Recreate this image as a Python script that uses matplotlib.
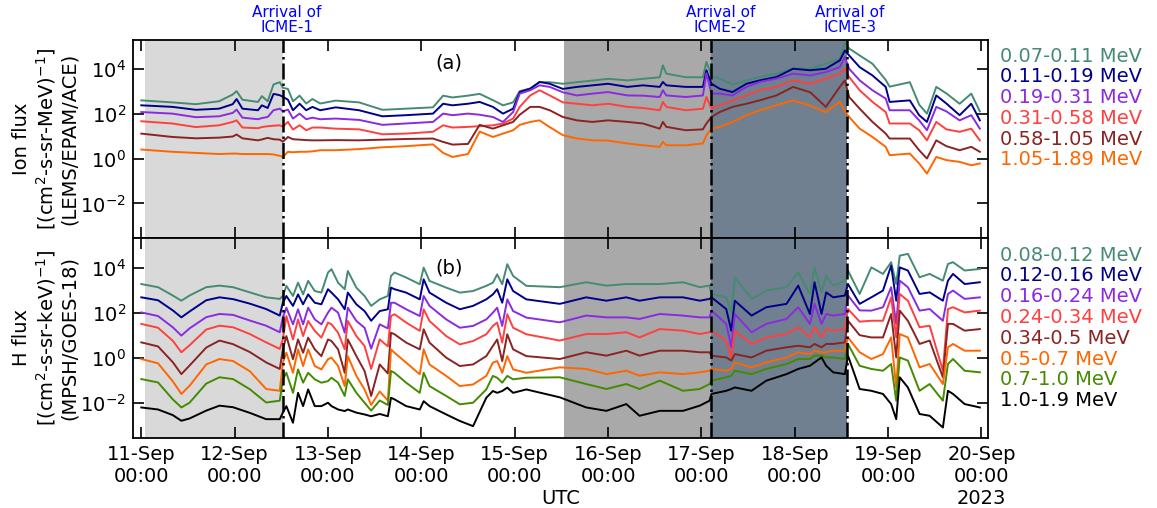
import numpy as np
import matplotlib
matplotlib.use("Agg")
import matplotlib.pyplot as plt
from matplotlib.ticker import FixedLocator, NullLocator, LogFormatterMathtext

# ---------------- data (hours since 2023-09-11 00:00 UTC, log10 flux) ----------------
t_ion_h = [0, 8, 14, 20, 23.5, 24.5, 26, 30, 31, 32.5,
           34, 35.6, 36.4, 37.7, 39, 40.7, 42.4, 44, 46, 50,
           56, 62, 68, 75, 77.6, 80, 84, 87, 90.4, 93,
           95.6, 97.3, 100, 102.4, 105, 108.4, 112, 116, 120, 125,
           129, 133.3, 134.1, 135, 140, 144.4, 145.3, 146.6, 148.7, 152,
           155.6, 159, 163.3, 167.6, 172, 176, 179.6, 180.9, 182, 184.7,
           188, 191.4, 192.4, 197.6, 200, 202, 204.4, 207, 210.4, 213.4, 215.6]

ion_007_011 = [2.59, 2.50, 2.42, 2.55, 2.85, 3.00, 2.62, 2.52, 2.78, 2.55,
               3.30, 3.40, 3.15, 3.10, 2.55, 2.80, 2.45, 2.65, 2.45, 2.58,
               2.50, 2.17, 2.22, 2.28, 2.80, 2.72, 2.80, 2.88, 2.60, 2.37,
               2.50, 3.00, 3.12, 3.40, 3.40, 3.33, 3.40, 3.47, 3.55, 3.48,
               3.55, 3.62, 4.15, 3.78, 3.62, 3.62, 4.30, 3.70, 3.56, 3.30,
               3.48, 3.63, 3.78, 4.00, 4.00, 4.22, 4.44, 5.15, 4.90, 4.59,
               4.22, 3.50, 3.20, 3.40, 2.40, 2.00, 3.19, 2.90, 2.44, 2.89, 2.10]
ion_011_019 = [2.37, 2.30, 2.17, 2.22, 2.42, 2.65, 2.22, 2.15, 2.37, 2.25,
               2.88, 2.82, 2.75, 2.62, 2.15, 2.44, 2.15, 2.30, 2.15, 2.28,
               2.15, 1.88, 1.93, 2.00, 2.44, 2.37, 2.44, 2.52, 2.30, 2.00,
               2.22, 2.96, 3.11, 3.41, 3.33, 3.10, 3.19, 3.26, 3.33, 3.19,
               3.26, 3.19, 3.41, 3.26, 3.19, 3.19, 3.93, 3.33, 3.11, 2.96,
               3.33, 3.48, 3.63, 4.00, 3.93, 4.00, 4.37, 4.81, 4.59, 4.07,
               3.70, 3.19, 2.52, 2.59, 1.93, 1.63, 2.81, 2.45, 1.93, 2.44, 1.70]
ion_019_031 = [2.07, 2.00, 1.84, 1.88, 2.03, 2.18, 1.82, 1.75, 1.80, 1.85,
               2.15, 2.22, 2.10, 2.18, 1.78, 2.00, 1.75, 1.82, 1.75, 1.78,
               1.72, 1.50, 1.56, 1.63, 2.00, 1.93, 2.00, 1.95, 1.85, 1.63,
               2.07, 2.89, 3.04, 3.26, 3.19, 2.95, 2.81, 2.89, 2.96, 2.81,
               2.80, 2.74, 3.04, 2.81, 2.74, 2.81, 3.80, 2.89, 2.89, 2.81,
               3.19, 3.41, 3.56, 3.78, 3.70, 3.85, 4.07, 4.52, 4.00, 3.48,
               3.04, 2.67, 2.15, 2.15, 1.70, 1.26, 2.30, 2.10, 1.70, 1.93, 1.33]
ion_031_058 = [1.66, 1.56, 1.40, 1.48, 1.63, 1.70, 1.38, 1.35, 1.40, 1.44,
               1.46, 1.48, 1.42, 1.63, 1.29, 1.48, 1.26, 1.38, 1.38, 1.33,
               1.30, 1.08, 1.11, 1.19, 1.48, 1.38, 1.41, 1.44, 1.48, 1.56,
               1.78, 2.30, 2.81, 3.04, 2.81, 2.50, 2.44, 2.37, 2.44, 2.30,
               2.25, 2.15, 2.52, 2.30, 2.15, 2.22, 2.74, 2.22, 2.37, 2.59,
               2.81, 3.04, 3.19, 3.48, 3.33, 3.56, 3.78, 4.00, 3.63, 3.04,
               2.52, 2.07, 1.56, 1.56, 1.26, 0.81, 1.63, 1.30, 1.19, 1.33, 0.81]
ion_058_105 = [1.11, 0.96, 0.90, 0.93, 0.98, 1.07, 0.90, 0.81, 0.85, 0.92,
               0.86, 0.84, 0.75, 0.96, 0.86, 0.84, 0.82, 0.81, 0.81, 0.82,
               0.81, 0.84, 0.87, 0.89, 0.74, 0.62, 0.65, 1.50, 1.33, 1.48,
               1.63, 1.95, 2.30, 2.30, 2.15, 1.85, 1.70, 1.63, 1.70, 1.63,
               1.56, 1.33, 1.63, 1.41, 1.26, 1.30, 1.56, 1.85, 2.07, 2.30,
               2.44, 2.59, 2.81, 3.19, 2.95, 2.30, 3.19, 3.48, 2.74, 2.22,
               1.63, 1.11, 0.89, 0.89, 0.37, 0.00, 0.81, 0.55, 0.37, 0.52, 0.30]
ion_105_189 = [0.40, 0.30, 0.25, 0.20, 0.22, 0.22, 0.20, 0.20, 0.20, 0.20,
               0.18, 0.12, 0.07, 0.30, 0.28, 0.30, 0.30, 0.32, 0.37, 0.37,
               0.42, 0.50, 0.55, 0.63, 0.25, 0.07, 0.20, 1.20, 0.96, 1.11,
               1.26, 1.50, 1.63, 1.70, 1.40, 1.04, 0.89, 0.81, 0.80, 0.67,
               0.59, 0.52, 0.74, 0.59, 0.59, 0.67, 1.04, 1.33, 1.41, 1.63,
               1.93, 2.15, 2.37, 2.59, 2.35, 2.07, 2.52, 2.10, 1.85, 1.33,
               0.96, 0.52, 0.15, 0.22, -0.22, -0.67, 0.07, -0.07, -0.15, -0.30, -0.22]

t_h_h = [0, 4.3, 8.1, 10.3, 12.4, 16.7, 20.1, 23.6, 27.9, 32.1,
         35.6, 36.4, 37.3, 39, 40.3, 41.6, 42.9, 44.6, 46.3, 48,
         48.9, 50.6, 52.3, 53.1, 55.3, 57.4, 59.1, 61.3, 63.4, 64.2,
         65.1, 68.1, 71.6, 72.6, 74.1, 78.4, 81.9, 85.3, 88.7, 90.4,
         91.5, 92.8, 94.1, 95.6, 99, 107.6, 114.4, 119.6, 124.7, 128.1,
         133.3, 139.3, 143.6, 146.1, 146.6, 150.4, 151.7, 152.6, 156.9, 160.7,
         165.9, 168.9, 171.9, 173.1, 174.9, 176.1, 177.9, 180.9, 181.7, 184.7,
         187.7, 190.7, 192.8, 194.1, 195, 197.1, 200.1, 202.7, 206.1, 207.4,
         208.7, 211.7, 215.6]

h_008_012 = [3.27, 3.13, 2.76, 2.53, 2.76, 3.13, 3.20, 3.13, 2.90, 2.68,
             2.61, 2.74, 3.19, 2.74, 3.33, 2.81, 3.41, 2.96, 2.89, 3.78,
             3.93, 3.33, 3.04, 3.85, 3.11, 2.74, 2.30, 2.59, 2.74, 3.63,
             3.78, 3.56, 3.26, 4.00, 3.41, 3.11, 2.89, 2.96, 3.19, 3.33,
             3.70, 3.26, 4.15, 3.63, 3.19, 3.13, 3.35, 3.20, 3.27, 3.27,
             3.27, 3.35, 3.13, 3.20, 2.83, 2.68, 2.01, 3.57, 2.61, 2.98,
             3.13, 3.79, 2.83, 4.01, 2.90, 3.64, 3.20, 3.42, 3.87, 2.83,
             4.01, 3.72, 4.24, 3.27, 4.53, 4.61, 3.57, 3.72, 3.42, 4.16,
             4.24, 3.87, 3.94]
h_012_016 = [2.68, 2.55, 2.10, 1.79, 2.05, 2.55, 2.68, 2.60, 2.40, 2.16,
             1.87, 2.44, 2.74, 2.30, 2.81, 2.37, 2.81, 2.44, 2.37, 3.04,
             2.89, 2.59, 2.15, 2.89, 2.37, 2.07, 1.64, 2.07, 2.15, 3.11,
             3.04, 2.89, 2.59, 3.48, 2.89, 2.44, 2.15, 2.30, 2.59, 2.81,
             3.04, 2.44, 3.48, 2.96, 2.59, 2.39, 2.68, 2.53, 2.68, 2.53,
             2.68, 2.68, 2.53, 2.61, 2.68, 2.16, 1.20, 2.53, 1.87, 2.24,
             2.39, 3.20, 1.94, 3.35, 1.94, 2.90, 2.68, 2.76, 3.27, 2.39,
             2.68, 2.98, 4.09, 2.53, 4.01, 3.87, 2.83, 2.90, 2.53, 3.42,
             3.72, 3.27, 3.35]
h_016_024 = [2.01, 1.85, 1.35, 0.98, 1.30, 1.80, 1.94, 1.90, 1.65, 1.42,
             1.13, 1.78, 2.22, 1.48, 2.15, 1.48, 2.22, 1.70, 1.48, 2.00,
             2.22, 2.00, 1.11, 2.22, 1.63, 1.33, 0.40, 1.48, 1.30, 2.44,
             2.44, 2.15, 1.85, 2.74, 2.30, 1.70, 1.33, 1.41, 1.70, 2.00,
             2.22, 1.41, 2.59, 2.07, 1.78, 1.57, 1.87, 1.79, 1.79, 1.72,
             1.94, 1.87, 1.79, 1.79, 2.09, 1.50, 0.46, 1.94, 1.13, 1.50,
             1.72, 2.24, 1.50, 2.39, 1.50, 1.94, 1.87, 1.94, 2.76, 2.10,
             2.09, 2.24, 3.13, 1.50, 3.42, 3.13, 2.09, 2.16, 1.64, 2.83,
             2.98, 2.61, 2.68]
h_024_034 = [1.50, 1.33, 0.75, 0.24, 0.55, 1.25, 1.42, 1.35, 1.05, 0.68,
             0.39, 0.81, 1.85, 0.81, 1.70, 0.96, 1.63, 1.19, 0.89, 1.56,
             1.48, 1.11, 0.37, 1.63, 0.96, 0.52, -0.50, 0.81, 0.50, 1.85,
             1.93, 1.56, 1.19, 2.15, 1.63, 0.96, 0.59, 0.74, 1.04, 1.41,
             1.56, 0.67, 1.93, 1.33, 1.04, 0.76, 1.05, 1.05, 1.13, 0.90,
             1.27, 1.20, 1.05, 1.13, 1.20, 0.76, 0.01, 1.20, 0.61, 0.90,
             1.05, 1.35, 0.90, 1.35, 0.90, 1.27, 1.20, 1.27, 2.16, 1.60,
             1.64, 1.64, 2.68, 0.90, 2.83, 2.53, 1.35, 1.42, -0.58, 2.16,
             2.24, 2.01, 2.09]
h_034_050 = [0.68, 0.50, -0.20, -0.73, -0.35, 0.45, 0.76, 0.60, 0.25, -0.21,
             -0.50, 0.37, 0.96, -0.07, 0.81, 0.22, 0.89, 0.37, 0.07, 0.81,
             0.74, 0.37, -0.67, 0.81, 0.07, -0.59, -1.70, -0.30, -0.70, 1.11,
             1.04, 0.67, 0.37, 1.26, 0.67, 0.00, -0.37, -0.30, 0.07, 0.52,
             0.81, -0.15, 1.04, 0.37, 0.07, -0.06, 0.24, 0.09, 0.31, 0.09,
             0.31, 0.31, 0.24, 0.24, 0.09, 0.01, -0.13, 0.16, 0.01, 0.31,
             0.46, 0.53, 0.46, 0.61, 0.46, 0.61, 0.61, 0.68, 1.64, 1.00,
             0.90, 0.90, 1.94, 0.01, 2.09, 1.64, 0.61, 0.76, -0.87, 1.50,
             1.50, 1.20, 1.27]
h_05_07 = [-0.06, -0.25, -1.05, -1.61, -1.25, -0.30, -0.06, -0.15, -0.60, -1.39,
           -1.47, -0.22, 0.22, -0.67, 0.37, -0.37, 0.37, -0.37, -0.52, -0.07,
           0.00, -0.37, -1.26, 0.07, -0.81, -1.41, -2.10, -1.50, -1.90, 0.37,
           0.22, -0.22, -0.74, 0.37, -0.30, -0.81, -1.26, -1.19, -0.81, -0.22,
           -0.15, -0.67, 0.07, -0.52, -0.67, -0.43, -0.50, -0.73, -0.58, -0.80,
           -0.65, -0.73, -0.65, -0.58, -0.50, -0.58, -0.50, -0.21, -0.43, -0.21,
           0.01, 0.24, 0.16, 0.31, 0.24, 0.24, 0.31, 0.31, 0.90, 0.24,
           -0.06, 0.16, 0.90, -1.32, 1.05, 0.90, -0.43, -0.28, -1.17, 0.46,
           0.61, 0.31, 0.31]
h_07_10 = [-0.95, -1.10, -1.85, -2.21, -2.00, -1.15, -0.87, -0.95, -1.40, -1.99,
           -1.91, -0.96, -0.67, -1.56, -0.52, -1.11, -0.67, -0.96, -1.11, -1.04,
           -0.89, -1.11, -1.70, -0.96, -1.56, -2.00, -2.35, -1.90, -2.10, -0.59,
           -0.67, -1.11, -1.56, -0.67, -1.26, -1.70, -2.07, -2.00, -1.41, -0.81,
           -0.89, -1.11, -0.81, -0.96, -0.89, -0.87, -1.17, -1.39, -1.17, -1.39,
           -1.02, -1.47, -1.39, -1.17, -1.02, -0.87, -0.80, -0.58, -0.73, -0.50,
           -0.28, -0.06, -0.06, 0.09, 0.09, 0.01, 0.01, -0.06, 0.61, -0.36,
           -0.50, -0.58, -0.28, -1.91, 0.01, -0.13, -1.47, -1.17, -1.91, -0.28,
           -0.06, -0.58, -0.65]
h_10_19 = [-2.21, -2.30, -2.55, -2.80, -2.70, -2.35, -2.13, -2.20, -2.45, -2.73,
           -2.73, -2.44, -2.15, -2.89, -1.56, -2.15, -1.41, -2.15, -2.15, -2.00,
           -2.15, -2.30, -2.37, -2.30, -2.44, -2.52, -2.60, -2.50, -2.60, -1.78,
           -1.85, -2.15, -2.30, -1.93, -2.15, -2.52, -2.81, -3.04, -1.78, -1.48,
           -1.56, -1.48, -1.33, -1.56, -1.41, -1.76, -2.21, -2.36, -2.06, -2.58,
           -2.36, -2.36, -2.13, -1.91, -1.61, -1.47, -1.39, -1.32, -1.47, -1.02,
           -0.73, -0.50, -0.36, -0.21, 0.01, -0.36, -0.65, -0.73, 0.09, -1.39,
           -1.47, -1.61, -2.06, -2.73, -0.87, -1.32, -2.50, -2.58, -3.10, -1.47,
           -1.61, -2.06, -2.21]

ion_labels = ["0.07-0.11 MeV", "0.11-0.19 MeV", "0.19-0.31 MeV",
              "0.31-0.58 MeV", "0.58-1.05 MeV", "1.05-1.89 MeV"]
h_labels = ["0.08-0.12 MeV", "0.12-0.16 MeV", "0.16-0.24 MeV", "0.24-0.34 MeV",
            "0.34-0.5 MeV", "0.5-0.7 MeV", "0.7-1.0 MeV", "1.0-1.9 MeV"]

ion_series = [ion_007_011, ion_011_019, ion_019_031, ion_031_058, ion_058_105, ion_105_189]
h_series = [h_008_012, h_012_016, h_016_024, h_024_034, h_034_050, h_05_07, h_07_10, h_10_19]

colors = ["#458B74", "#00008B", "#8A2BE2", "#FF4040", "#8B2323", "#FF6600", "#458B00", "#000000"]

icme_times = ["2023-09-12T12:24", "2023-09-17T02:24", "2023-09-18T13:24"]
icme_names = ["Arrival of\nICME-1", "Arrival of\nICME-2", "Arrival of\nICME-3"]
icme_label_shift_pt = [3, 7, 2]
shade_spans = [("2023-09-11T01:00", "2023-09-12T12:24", "#D9D9D9"),
               ("2023-09-15T12:40", "2023-09-17T02:24", "#A9A9A9"),
               ("2023-09-17T02:24", "2023-09-18T13:24", "#708090")]

# ---------------- plotting ----------------
t0 = np.datetime64("2023-09-11T00:00")


def to_dt(hours):
    return t0 + np.round(np.asarray(hours) * 60).astype("timedelta64[m]")


fig = plt.figure(figsize=(11.57, 5.08), dpi=100)
L, R = 133 / 1157, 988 / 1157
ax1 = fig.add_axes([L, 1 - 238.3 / 508, R - L, 198.8 / 508])
ax2 = fig.add_axes([L, 1 - 437.7 / 508, R - L, 199.4 / 508], sharex=ax1)

for ax in (ax1, ax2):
    for s, e, c in shade_spans:
        ax.axvspan(np.datetime64(s), np.datetime64(e), color=c, lw=0, zorder=0)
    for tt in icme_times:
        ax.axvline(np.datetime64(tt), color="black", ls="-.", lw=1.8, zorder=3)

for vals, c in zip(ion_series, colors):
    ax1.plot(to_dt(t_ion_h), 10 ** np.asarray(vals), color=c, lw=1.4, zorder=2)
for vals, c in zip(h_series, colors):
    ax2.plot(to_dt(t_h_h), 10 ** np.asarray(vals), color=c, lw=1.4, zorder=2)

xmin = t0 - np.timedelta64(128, "m")
xmax = t0 + np.timedelta64(217 * 60 + 42, "m")
day_ticks = [t0 + np.timedelta64(d, "D") for d in range(10)]
day_labels = [str(np.datetime_as_string(d, unit="D")) for d in day_ticks]
month_abbr = {"09": "Sep"}
tick_text = []
for i, s in enumerate(day_labels):
    lab = f"{s[8:10]}-{month_abbr[s[5:7]]}\n00:00"
    if i == len(day_labels) - 1:
        lab += "\n2023"
    tick_text.append(lab)

for ax in (ax1, ax2):
    ax.set_yscale("log")
    ax.set_ylim(2.8e-4, 2.0e5)
    ax.yaxis.set_major_locator(FixedLocator([1e-2, 1, 1e2, 1e4]))
    ax.yaxis.set_minor_locator(NullLocator())
    ax.yaxis.set_major_formatter(LogFormatterMathtext())
    ax.set_xlim(xmin, xmax)
    ax.set_xticks(day_ticks)
    ax.xaxis.set_minor_locator(NullLocator())
    ax.tick_params(which="both", direction="in", top=True, right=True,
                   length=8, width=1.2, labelsize=14, pad=5)
    for sp in ax.spines.values():
        sp.set_linewidth(1.3)

ax1.tick_params(labelbottom=False)
ax2.set_xticklabels(tick_text)
ax2.set_xlabel("UTC", fontsize=14)
ax2.xaxis.set_label_coords(0.5, -0.255)

ax1.set_ylabel("Ion flux\n[(cm$^2$-s-sr-MeV)$^{-1}$]\n(LEMS/EPAM/ACE)", fontsize=14, linespacing=1.15)
ax2.set_ylabel("H flux\n[(cm$^2$-s-sr-keV)$^{-1}$]\n(MPSH/GOES-18)", fontsize=14, linespacing=1.15)
ax1.yaxis.set_label_coords(-0.063, 0.5)
ax2.yaxis.set_label_coords(-0.063, 0.5)

ax1.text(0.370, 0.882, "(a)", transform=ax1.transAxes, fontsize=14, ha="center", va="center")
ax2.text(0.370, 0.851, "(b)", transform=ax2.transAxes, fontsize=14, ha="center", va="center")

for tt, name, dx in zip(icme_times, icme_names, icme_label_shift_pt):
    ax1.annotate(name, xy=(np.datetime64(tt), 1.0), xycoords=("data", "axes fraction"),
                 xytext=(dx, 3), textcoords="offset points", ha="center", va="bottom",
                 color="#0000FF", fontsize=11, linespacing=1.05)

for i, (lab, c) in enumerate(zip(ion_labels, colors)):
    ax1.text(1.014, 0.917 - i * 0.1046, lab, transform=ax1.transAxes, color=c,
             fontsize=14, ha="left", va="center")
for i, (lab, c) in enumerate(zip(h_labels, colors)):
    ax2.text(1.014, 0.916 - i * 0.1043, lab, transform=ax2.transAxes, color=c,
             fontsize=14, ha="left", va="center")

fig.savefig("out.png", dpi=100)
